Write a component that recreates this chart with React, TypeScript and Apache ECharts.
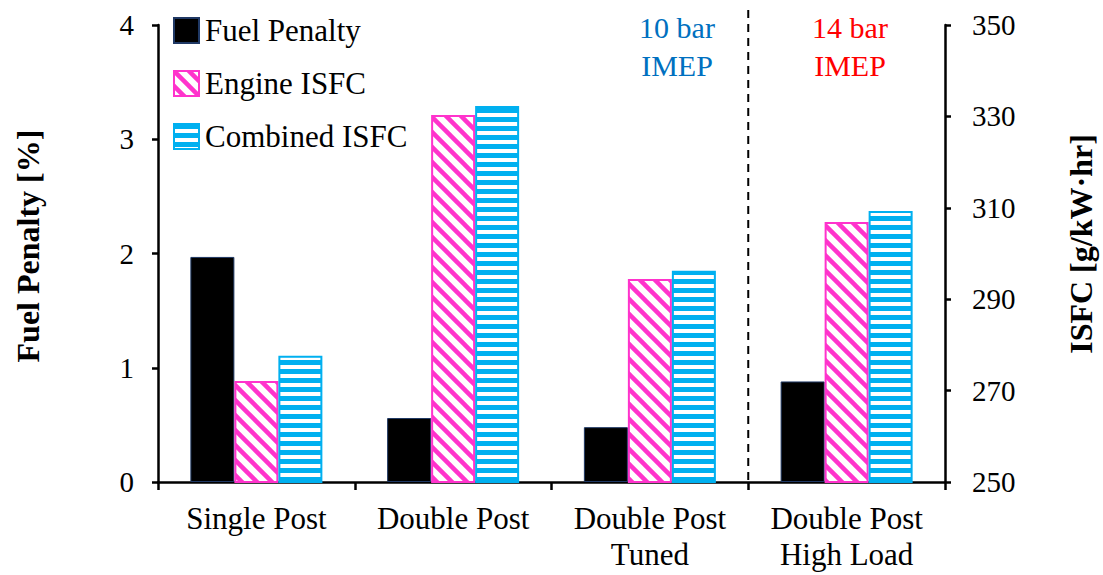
import React, { useEffect, useRef } from "react";
import * as echarts from "echarts";

const categories = ["Single Post", "Double Post", "Double Post\nTuned", "Double Post\nHigh Load"];
const fuelPenalty = [1.97, 0.56, 0.48, 0.88];
const engineISFC = [272.1, 330.3, 294.4, 306.9];
const combinedISFC = [277.6, 332.3, 296.2, 309.3];
const leftTicks = { min: 0, max: 4, interval: 1 };
const rightTicks = { min: 250, max: 350, interval: 20 };

const FONT = "'Liberation Serif', 'Times New Roman', serif";

function diagPattern(): HTMLCanvasElement {
  const c = document.createElement("canvas");
  const s = 15;
  c.width = s;
  c.height = s;
  const ctx = c.getContext("2d")!;
  ctx.fillStyle = "#ffffff";
  ctx.fillRect(0, 0, s, s);
  ctx.strokeStyle = "#FF33CC";
  ctx.lineWidth = 4.5;
  for (const off of [-s, 0, s]) {
    ctx.beginPath();
    ctx.moveTo(off - 2, -2);
    ctx.lineTo(off + s + 2, s + 2);
    ctx.stroke();
  }
  return c;
}

function hPattern(): HTMLCanvasElement {
  const c = document.createElement("canvas");
  c.width = 9;
  c.height = 9;
  const ctx = c.getContext("2d")!;
  ctx.fillStyle = "#ffffff";
  ctx.fillRect(0, 0, 9, 9);
  ctx.fillStyle = "#00B0F0";
  ctx.fillRect(0, 0, 9, 5);
  return c;
}

export default function App() {
  const ref = useRef<HTMLDivElement>(null);
  useEffect(() => {
    document.body.style.margin = "0";
    const chart = echarts.init(ref.current!, null, { renderer: "svg" });
    const gridLeft = 158;
    const gridRight = 158;
    const gridTop = 25;
    const gridBottom = 93;
    const W = 1103;
    const H = 575;
    const gw = W - gridLeft - gridRight;
    const divX = gridLeft + (gw * 3) / categories.length;
    const axisLine = { show: true, lineStyle: { color: "#000", width: 2.5 } };
    chart.setOption({
      animation: false,
      backgroundColor: "#fff",
      grid: { left: gridLeft, right: gridRight, top: gridTop, bottom: gridBottom },
      legend: {
        orient: "vertical",
        left: 173,
        top: 15,
        padding: 0,
        itemWidth: 25,
        itemHeight: 25,
        itemGap: 22,
        icon: "rect",
        textStyle: { fontFamily: FONT, fontSize: 31, color: "#000", lineHeight: 25, padding: [0, 0, 0, 1] },
        data: ["Fuel Penalty", "Engine ISFC", "Combined ISFC"],
      },
      xAxis: {
        type: "category",
        data: categories,
        axisLine,
        axisTick: { show: true, length: 8, lineStyle: { color: "#000", width: 2.5 } },
        axisLabel: { interval: 0, fontFamily: FONT, fontSize: 31, color: "#000", margin: 18, lineHeight: 36 },
      },
      yAxis: [
        {
          type: "value",
          ...leftTicks,
          axisLine,
          axisTick: { show: true, length: 6, lineStyle: { color: "#000", width: 2.5 } },
          axisLabel: { fontFamily: FONT, fontSize: 29, color: "#000", margin: 24 },
          splitLine: { show: false },
        },
        {
          type: "value",
          ...rightTicks,
          position: "right",
          axisLine,
          axisTick: { show: true, length: 6, lineStyle: { color: "#000", width: 2.5 } },
          axisLabel: { fontFamily: FONT, fontSize: 29, color: "#000", margin: 27 },
          splitLine: { show: false },
        },
      ],
      series: [
        {
          name: "Fuel Penalty",
          type: "bar",
          yAxisIndex: 0,
          data: fuelPenalty,
          barWidth: 44,
          barGap: "0%",
          itemStyle: { color: "#000", borderColor: "#1F3864", borderWidth: 1 },
        },
        {
          name: "Engine ISFC",
          type: "bar",
          yAxisIndex: 1,
          data: engineISFC,
          barWidth: 44,
          barGap: "0%",
          itemStyle: {
            color: { image: diagPattern(), repeat: "repeat" },
            borderColor: "#FF33CC",
            borderWidth: 2,
          },
        },
        {
          name: "Combined ISFC",
          type: "bar",
          yAxisIndex: 1,
          data: combinedISFC,
          barWidth: 44,
          barGap: "0%",
          itemStyle: {
            color: { image: hPattern(), repeat: "repeat" },
            borderColor: "#00B0F0",
            borderWidth: 2,
          },
        },
      ],
      graphic: [
        {
          type: "line",
          shape: { x1: divX, y1: 10, x2: divX, y2: H - gridBottom },
          style: { stroke: "#000", lineWidth: 2, lineDash: [8, 6] },
          z: 10,
        },
        {
          type: "text",
          x: 677,
          y: 8,
          style: {
            text: "10 bar\nIMEP",
            fill: "#0070C0",
            font: `30px ${FONT}`,
            textAlign: "center",
            lineHeight: 38,
          },
        },
        {
          type: "text",
          x: 850,
          y: 8,
          style: {
            text: "14 bar\nIMEP",
            fill: "#FF0000",
            font: `30px ${FONT}`,
            textAlign: "center",
            lineHeight: 38,
          },
        },
        {
          type: "text",
          x: 28,
          y: 246,
          rotation: Math.PI / 2,
          style: {
            text: "Fuel Penalty [%]",
            fill: "#000",
            font: `bold 32px ${FONT}`,
            textAlign: "center",
            textVerticalAlign: "middle",
          },
        },
        {
          type: "text",
          x: 1081,
          y: 244,
          rotation: Math.PI / 2,
          style: {
            text: "ISFC [g/kW·hr]",
            fill: "#000",
            font: `bold 32px ${FONT}`,
            textAlign: "center",
            textVerticalAlign: "middle",
          },
        },
      ],
    });
    return () => chart.dispose();
  }, []);
  return <div ref={ref} style={{ width: 1103, height: 575 }} />;
}
